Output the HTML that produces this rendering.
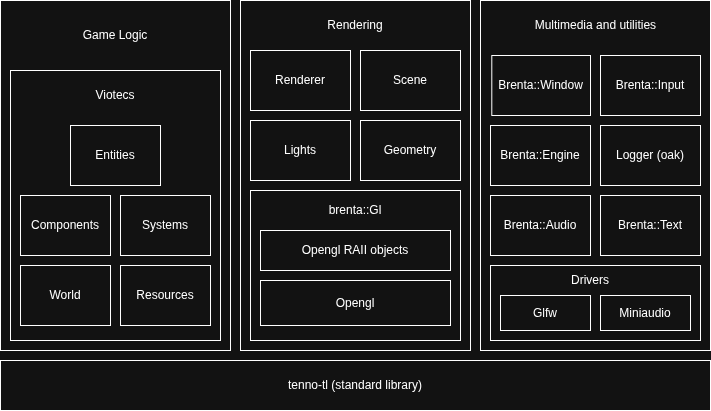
<!DOCTYPE html>
<html><head><meta charset="utf-8"><title>Architecture</title><style>
html,body{margin:0;padding:0;}
body{width:711px;height:411px;background:#121212;position:relative;overflow:hidden;
 font-family:"Liberation Sans",Helvetica,Arial,sans-serif;font-size:12px;color:#fff;}
.b{position:absolute;box-sizing:border-box;border:1px solid #fff;}
.v{position:absolute;width:1px;}
.t{position:absolute;white-space:nowrap;width:300px;height:14px;line-height:14px;text-align:center;}
#L{position:absolute;left:0;top:0;width:711px;height:411px;will-change:transform;}
</style></head><body>
<div id="L">
<div class="b" style="left:0px;top:0px;width:231px;height:351px"></div>
<div class="b" style="left:240px;top:0px;width:231px;height:351px"></div>
<div class="b" style="left:480px;top:0px;width:231px;height:351px"></div>
<div class="b" style="left:0px;top:360px;width:711px;height:51px"></div>
<div class="b" style="left:10px;top:70px;width:211px;height:271px"></div>
<div class="b" style="left:70px;top:125px;width:91px;height:61px"></div>
<div class="b" style="left:20px;top:195px;width:91px;height:61px"></div>
<div class="b" style="left:120px;top:195px;width:91px;height:61px"></div>
<div class="b" style="left:20px;top:265px;width:91px;height:61px"></div>
<div class="b" style="left:120px;top:265px;width:91px;height:61px"></div>
<div class="b" style="left:250px;top:50px;width:101px;height:61px"></div>
<div class="b" style="left:360px;top:50px;width:101px;height:61px"></div>
<div class="b" style="left:250px;top:120px;width:101px;height:61px"></div>
<div class="b" style="left:360px;top:120px;width:101px;height:61px"></div>
<div class="b" style="left:250px;top:190px;width:211px;height:151px"></div>
<div class="b" style="left:260px;top:230px;width:191px;height:41px"></div>
<div class="b" style="left:260px;top:280px;width:191px;height:46px"></div>
<div class="b" style="left:491px;top:55px;width:100px;height:61px"></div>
<div class="b" style="left:600px;top:55px;width:101px;height:61px"></div>
<div class="b" style="left:490px;top:125px;width:101px;height:61px"></div>
<div class="b" style="left:600px;top:125px;width:101px;height:61px"></div>
<div class="b" style="left:490px;top:195px;width:101px;height:61px"></div>
<div class="b" style="left:600px;top:195px;width:101px;height:61px"></div>
<div class="b" style="left:490px;top:265px;width:211px;height:76px"></div>
<div class="b" style="left:500px;top:295px;width:91px;height:36px"></div>
<div class="b" style="left:600px;top:295px;width:91px;height:36px"></div>
<div class="v" style="left:491px;top:55px;height:61px;background:#b8b8b8"></div><div class="v" style="left:492px;top:56px;height:59px;background:#595959"></div>
<div class="t" style="left:-35px;top:28px">Game Logic</div>
<div class="t" style="left:205px;top:18px">Rendering</div>
<div class="t" style="left:445.4px;top:18px">Multimedia and utilities</div>
<div class="t" style="left:205px;top:378px">tenno-tl (standard library)</div>
<div class="t" style="left:-35px;top:88px">Viotecs</div>
<div class="t" style="left:-35.0px;top:148px">Entities</div>
<div class="t" style="left:-85.0px;top:218px">Components</div>
<div class="t" style="left:15.0px;top:218px">Systems</div>
<div class="t" style="left:-85.0px;top:288px">World</div>
<div class="t" style="left:15.0px;top:288px">Resources</div>
<div class="t" style="left:150.0px;top:73px">Renderer</div>
<div class="t" style="left:260.0px;top:73px">Scene</div>
<div class="t" style="left:150.0px;top:143px">Lights</div>
<div class="t" style="left:260.0px;top:143px">Geometry</div>
<div class="t" style="left:205px;top:203px">brenta::Gl</div>
<div class="t" style="left:205.0px;top:243px">Opengl RAII objects</div>
<div class="t" style="left:205px;top:296px">Opengl</div>
<div class="t" style="left:390.5px;top:78px">Brenta::Window</div>
<div class="t" style="left:500.0px;top:78px">Brenta::Input</div>
<div class="t" style="left:390.0px;top:148px">Brenta::Engine</div>
<div class="t" style="left:500.0px;top:148px">Logger (oak)</div>
<div class="t" style="left:390.0px;top:218px">Brenta::Audio</div>
<div class="t" style="left:500.0px;top:218px">Brenta::Text</div>
<div class="t" style="left:440px;top:273px">Drivers</div>
<div class="t" style="left:395px;top:306px">Glfw</div>
<div class="t" style="left:495px;top:306px">Miniaudio</div>
</div>
</body></html>
